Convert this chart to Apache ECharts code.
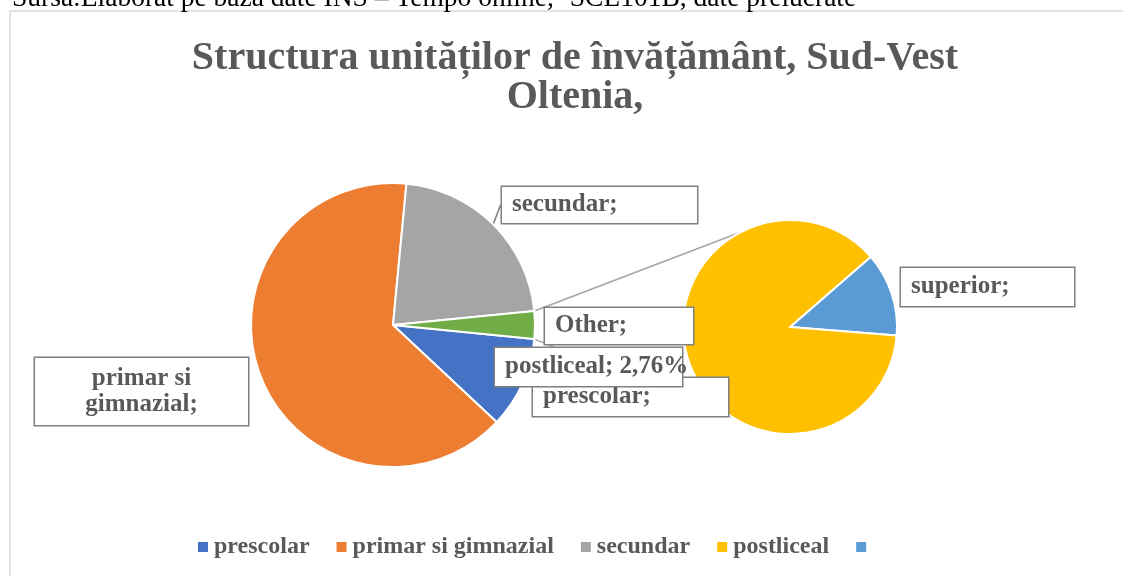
<!DOCTYPE html>
<html>
<head>
<meta charset="utf-8">
<script src="https://cdn.jsdelivr.net/npm/echarts@6/dist/echarts.min.js"></script>
<style>
  html, body { margin: 0; padding: 0; background: #fff; }
  #main { width: 1123px; height: 576px; }
</style>
</head>
<body>
<div id="main"></div>
<script>
// date (% din total unitati)
const categories = ['prescolar', 'primar si gimnazial', 'secundar', 'postliceal', 'superior'];
const shares = [10.4, 64.5, 21.9, 2.76, 0.4];
const colors = ['#4472C4', '#ED7D31', '#A5A5A5', '#FFC000', '#5B9BD5'];
const otherColor = '#70AD47';

// pozitii casete etichete: [x, y, latime, inaltime]
const labelBoxes = {
    'secundar': [502, 187, 195, 36],
    'Other': [545, 308, 148, 36],
    'prescolar': [533, 378, 195, 38],
    'primar si gimnazial': [35, 358, 213, 67],
    'postliceal': [495, 348, 187, 38],
    'superior': [901, 268, 173, 38]
};

const serif = '"Liberation Serif", "Times New Roman", serif';
const main = { cx: 393, cy: 325, r: 142 };
const second = { cx: 790, cy: 327, r: 107 };

const otherValue = shares[3] + shares[4];
const mainStart = -otherValue * 3.6 / 2;

function boxLabel(name, text) {
    const b = labelBoxes[name];
    const lines = text.split('\n').length;
    const lh = lines > 1 ? 26 : 28;
    const padV = (b[3] - lines * lh) / 2;
    return {
        show: true,
        formatter: text,
        width: b[2] - 20,
        padding: [padV, 10, padV, 10],
        lineHeight: lh,
        overflow: 'none'
    };
}

const mainData = [0, 1, 2].map(i => ({
    name: categories[i],
    value: shares[i],
    itemStyle: { color: colors[i] },
    label: boxLabel(categories[i], i === 1 ? 'primar si\ngimnazial;' : categories[i] + ';'),
    labelLine: { show: i === 2 }
}));
mainData.push({
    name: 'Other',
    value: otherValue,
    itemStyle: { color: otherColor },
    label: boxLabel('Other', 'Other;'),
    labelLine: { show: false }
});

const secondData = [
    { name: categories[4], value: shares[4], itemStyle: { color: colors[4] },
      label: boxLabel('superior', 'superior;'), labelLine: { show: false } },
    { name: categories[3], value: shares[3], itemStyle: { color: colors[3] },
      label: boxLabel('postliceal', 'postliceal; ' + shares[3].toFixed(2).replace('.', ',') + '%'),
      labelLine: { show: false } }
];

const secondStart = 41;

const labelStyle = {
    fontFamily: serif,
    fontWeight: 'bold',
    fontSize: 25,
    color: '#595959',
    backgroundColor: '#fff',
    borderColor: '#7F7F7F',
    borderWidth: 1.5
};

function labelLayout(params) {
    const data = params.seriesIndex === 0 ? mainData : secondData;
    const name = data[params.dataIndex].name;
    const b = labelBoxes[name];
    if (name === 'primar si gimnazial') {
        return { x: b[0] + b[2] / 2, y: b[1], align: 'center', verticalAlign: 'top' };
    }
    return { x: b[0], y: b[1], align: 'left', verticalAlign: 'top' };
}

// linii de legatura intre felia "Other" si al doilea grafic
function pt(c, r, deg) {
    const a = deg * Math.PI / 180;
    return [c.cx + r * Math.cos(a), c.cy - r * Math.sin(a)];
}
const halfOther = otherValue * 3.6 / 2;
const connectors = [
    [pt(main, main.r, halfOther), pt(second, second.r, 118)],
    [pt(main, main.r, -halfOther), pt(second, second.r, -122)]
].map(p => ({
    type: 'line',
    z: -1,
    shape: { x1: p[0][0], y1: p[0][1], x2: p[1][0], y2: p[1][1] },
    style: { stroke: '#A5A5A5', lineWidth: 1.5 }
}));

const chart = echarts.init(document.getElementById('main'));
chart.setOption({
    animation: false,
    title: {
        text: 'Structura unităților de învățământ, Sud-Vest\nOltenia,',
        left: 570,
        top: 34,
        textAlign: 'center',
        textStyle: {
            fontFamily: serif,
            fontWeight: 'bold',
            fontSize: 40,
            lineHeight: 39,
            color: '#595959'
        }
    },
    legend: {
        bottom: 12,
        left: 191,
        icon: 'rect',
        itemWidth: 12,
        itemHeight: 12,
        itemGap: 25,
        data: categories,
        formatter: name => name === 'superior' ? '' : name,
        textStyle: {
            fontFamily: serif,
            fontWeight: 'bold',
            fontSize: 24,
            color: '#595959'
        }
    },
    graphic: [
        {
            type: 'rect',
            z: -2,
            shape: { x: 10, y: 11, width: 1130, height: 600 },
            style: { fill: '#fff', stroke: '#D9D9D9', lineWidth: 1.5 }
        },
        {
            type: 'text',
            left: 12,
            top: -15,
            style: {
                text: 'Sursa:Elaborat pe baza date INS – Tempo online, ‘SCL101B, date prelucrate',
                font: '27.5px ' + serif,
                fill: '#000'
            }
        }
    ].concat(connectors),
    series: [
        {
            type: 'pie',
            center: [main.cx, main.cy],
            radius: main.r,
            startAngle: mainStart,
            clockwise: true,
            itemStyle: { borderColor: '#fff', borderWidth: 2 },
            label: labelStyle,
            labelLine: { length: 1, length2: 0, lineStyle: { color: '#7F7F7F', width: 1.5 } },
            labelLayout: labelLayout,
            data: mainData
        },
        {
            type: 'pie',
            center: [second.cx, second.cy],
            radius: second.r,
            startAngle: secondStart,
            clockwise: true,
            itemStyle: { borderColor: '#fff', borderWidth: 2 },
            label: labelStyle,
            labelLine: { show: false },
            labelLayout: labelLayout,
            data: secondData
        }
    ]
});
</script>
</body>
</html>
